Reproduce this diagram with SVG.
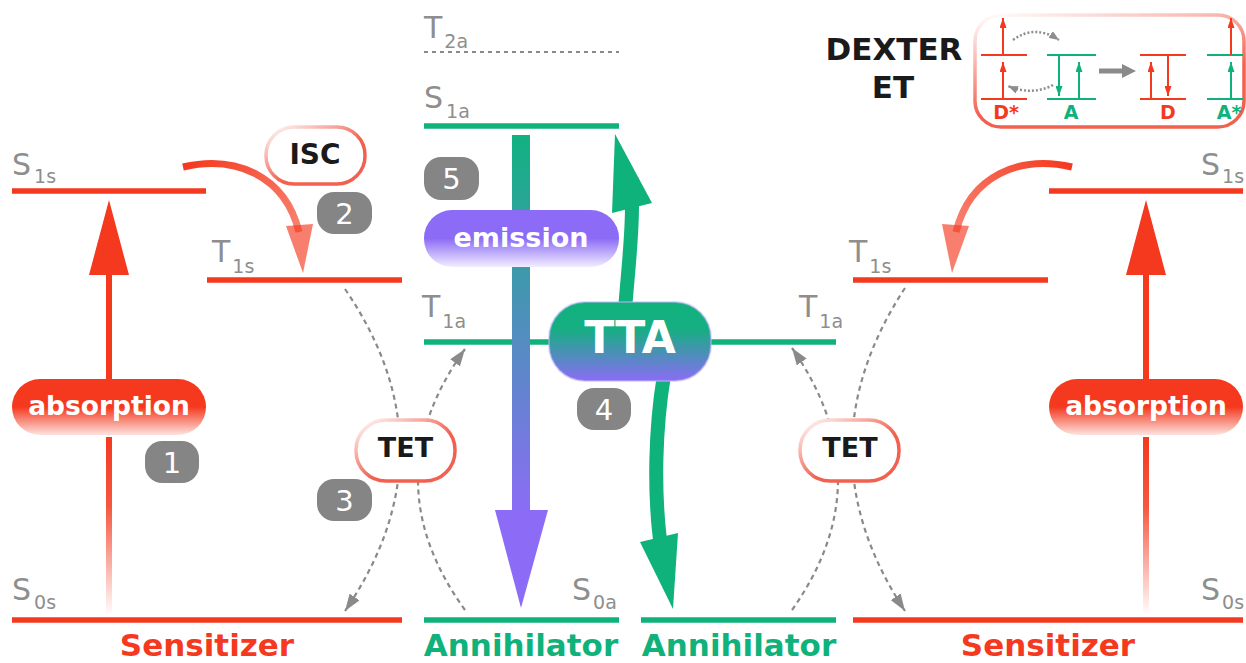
<svg xmlns="http://www.w3.org/2000/svg" width="1246" height="663" viewBox="0 0 1246 663">
<style>
.red{stroke:#f4391f;stroke-width:5.5;fill:none}
.grn{stroke:#10b27c;stroke-width:5.5;fill:none}
.lvl{font-family:"DejaVu Sans",Verdana,sans-serif;font-size:30px;fill:#8e8e8e}
.sub{font-size:19px}
.pt{font-family:"DejaVu Sans",Verdana,sans-serif;font-weight:bold;fill:#fff;text-anchor:middle}
.bt{font-family:"DejaVu Sans",Verdana,sans-serif;font-weight:bold;fill:#1a1a1a;text-anchor:middle}
.badge{fill:#858585}
.bn{font-family:"DejaVu Sans",Verdana,sans-serif;font-size:29px;fill:#fff;text-anchor:middle}
.dash{stroke:#8a8a8a;stroke-width:2.2;stroke-dasharray:5 4;fill:none}
.dot{stroke:#8e8e8e;stroke-width:2.5;stroke-dasharray:2 2;fill:none}
.wpill{fill:#fff;stroke:url(#gPS);stroke-width:3.5}
.foot{font-family:"DejaVu Sans",Verdana,sans-serif;font-weight:bold;font-size:31px;text-anchor:middle}
.dl{font-family:"DejaVu Sans",Verdana,sans-serif;font-weight:bold;font-size:19px;text-anchor:middle}
.dr{stroke:#f4391f;stroke-width:2;fill:none}
.dg{stroke:#10b27c;stroke-width:2;fill:none}
</style>
<defs>
<linearGradient id="gAbs" x1="0" y1="0" x2="0" y2="1"><stop offset="0" stop-color="#f4391f"/><stop offset="0.5" stop-color="#f4391f"/><stop offset="1" stop-color="#fde3df"/></linearGradient>
<linearGradient id="gEm" x1="0" y1="0" x2="0" y2="1"><stop offset="0" stop-color="#8c6cf6"/><stop offset="0.5" stop-color="#8c6cf6"/><stop offset="1" stop-color="#f1edff"/></linearGradient>
<linearGradient id="gTTA" x1="0" y1="0" x2="0" y2="1"><stop offset="0" stop-color="#10b27c"/><stop offset="0.35" stop-color="#16ae83"/><stop offset="1" stop-color="#8a6cf5"/></linearGradient>
<linearGradient id="gShaft" gradientUnits="userSpaceOnUse" x1="0" y1="437" x2="0" y2="612"><stop offset="0" stop-color="#f4391f"/><stop offset="0.4" stop-color="#f4391f" stop-opacity="0.85"/><stop offset="1" stop-color="#f4391f" stop-opacity="0.03"/></linearGradient>
<linearGradient id="gEmS" gradientUnits="userSpaceOnUse" x1="0" y1="135" x2="0" y2="515"><stop offset="0" stop-color="#12b281"/><stop offset="1" stop-color="#8c6cf6"/></linearGradient>
<linearGradient id="gISC" gradientUnits="userSpaceOnUse" x1="183" y1="167" x2="300" y2="250"><stop offset="0" stop-color="#f4391f"/><stop offset="1" stop-color="#f4391f" stop-opacity="0.6"/></linearGradient>
<linearGradient id="gPS" x1="0" y1="0" x2="0.55" y2="0.6"><stop offset="0" stop-color="#fff"/><stop offset="1" stop-color="#f2604f"/></linearGradient>
<linearGradient id="gDX" x1="0" y1="0" x2="0.35" y2="0.75"><stop offset="0" stop-color="#fff"/><stop offset="1" stop-color="#f2604f"/></linearGradient>
<marker id="mG" viewBox="0 0 10 10" preserveAspectRatio="none" refX="10" refY="5" markerWidth="17" markerHeight="12" markerUnits="userSpaceOnUse" orient="auto"><path d="M0,0L10,5L0,10z" fill="#8a8a8a"/></marker>
<marker id="mS" viewBox="0 0 10 10" preserveAspectRatio="none" refX="10" refY="5" markerWidth="10" markerHeight="8" markerUnits="userSpaceOnUse" orient="auto"><path d="M0,0L10,5L0,10z" fill="#8e8e8e"/></marker>
<marker id="mR" viewBox="0 0 10 10" preserveAspectRatio="none" refX="10" refY="5" markerWidth="10" markerHeight="7" markerUnits="userSpaceOnUse" orient="auto"><path d="M0,0L10,5L0,10z" fill="#f4391f"/></marker>
<marker id="mGr" viewBox="0 0 10 10" preserveAspectRatio="none" refX="10" refY="5" markerWidth="10" markerHeight="7" markerUnits="userSpaceOnUse" orient="auto"><path d="M0,0L10,5L0,10z" fill="#10b27c"/></marker>
</defs>
<rect width="1246" height="663" fill="#fff"/>

<g id="levels">
<line class="red" x1="12" y1="191" x2="206" y2="191"/>
<line class="red" x1="207" y1="280" x2="402" y2="280"/>
<line class="red" x1="12" y1="620" x2="402" y2="620"/>
<line class="red" x1="1049" y1="191" x2="1243" y2="191"/>
<line class="red" x1="853" y1="280" x2="1048" y2="280"/>
<line class="red" x1="853" y1="620" x2="1243" y2="620"/>
<line x1="424" y1="52" x2="619" y2="52" stroke="#8a8a8a" stroke-width="2.2" stroke-dasharray="4 4"/>
<line class="grn" x1="424" y1="126" x2="619" y2="126"/>
<line class="grn" x1="424" y1="342" x2="836" y2="342"/>
<line class="grn" x1="424" y1="620" x2="619" y2="620"/>
<line class="grn" x1="641" y1="620" x2="836" y2="620"/>
</g>

<g id="level-labels">
<text class="lvl" x="12" y="175">S<tspan class="sub" dx="3" dy="8">1s</tspan></text>
<text class="lvl" x="212" y="262">T<tspan class="sub" dx="2" dy="11">1s</tspan></text>
<text class="lvl" x="12" y="600">S<tspan class="sub" dx="3" dy="9">0s</tspan></text>
<text class="lvl" x="424" y="38">T<tspan class="sub" dx="2" dy="10">2a</tspan></text>
<text class="lvl" x="424" y="108">S<tspan class="sub" dx="3" dy="10">1a</tspan></text>
<text class="lvl" x="422" y="317">T<tspan class="sub" dx="2" dy="11">1a</tspan></text>
<text class="lvl" x="799" y="317">T<tspan class="sub" dx="2" dy="11">1a</tspan></text>
<text class="lvl" x="572" y="600">S<tspan class="sub" dx="2" dy="9">0a</tspan></text>
<text class="lvl" x="849" y="262">T<tspan class="sub" dx="2" dy="11">1s</tspan></text>
<text class="lvl" x="1201" y="175">S<tspan class="sub" dx="2" dy="8">1s</tspan></text>
<text class="lvl" x="1201" y="600">S<tspan class="sub" dx="2" dy="9">0s</tspan></text>
</g>

<g id="connectors">
<rect x="106" y="268" width="6" height="112" fill="#f4391f"/>
<rect x="106" y="437" width="6" height="176" fill="url(#gShaft)"/>
<polygon points="89,275 129,275 109,200" fill="#f4391f"/>
<rect x="1143" y="268" width="6" height="112" fill="#f4391f"/>
<rect x="1143" y="437" width="6" height="176" fill="url(#gShaft)"/>
<polygon points="1126,275 1166,275 1146,200" fill="#f4391f"/>
<g id="isc-left">
<path d="M183,167 C235,155 285,175 299,232" stroke="url(#gISC)" stroke-width="7" fill="none"/>
<polygon points="286,226 313,224 303,273" fill="#f4391f" fill-opacity="0.65"/>
</g>
<g transform="translate(1255,0) scale(-1,1)">
<path d="M183,167 C235,155 285,175 299,232" stroke="url(#gISC)" stroke-width="7" fill="none"/>
<polygon points="286,226 313,224 303,273" fill="#f4391f" fill-opacity="0.65"/>
</g>
<path class="dash" d="M345,289 Q455,450 345,611" marker-end="url(#mG)"/>
<path class="dash" d="M465,610 Q371,480 465,349" marker-end="url(#mG)"/>
<path class="dash" d="M905,288 Q799,450 905,611" marker-end="url(#mG)"/>
<path class="dash" d="M792,610 Q884,480 792,348" marker-end="url(#mG)"/>
<rect x="512" y="135" width="18" height="378" fill="url(#gEmS)"/>
<polygon points="495,510 548,510 521,608" fill="#8c6cf6"/>
<path d="M625,310 C628,270 632,240 632,206" stroke="#10b27c" stroke-width="14" fill="none"/>
<polygon points="612,213 652,203 615,134" fill="#10b27c"/>
<path d="M664,375 C655,430 654,490 660,540" stroke="#10b27c" stroke-width="14" fill="none"/>
<polygon points="640,542 678,533 673,609" fill="#10b27c"/>
</g>

<g id="absorption-left">
<rect x="12" y="379" width="194" height="56" rx="28" fill="url(#gAbs)"/>
<text class="pt" x="109" y="415" font-size="26.5">absorption</text>
</g>
<g id="absorption-right">
<rect x="1049" y="379" width="194" height="56" rx="28" fill="url(#gAbs)"/>
<text class="pt" x="1146" y="415" font-size="26.5">absorption</text>
</g>
<g id="isc">
<rect class="wpill" x="266" y="127" width="99" height="57" rx="28"/>
<text class="bt" x="315" y="164" font-size="28">ISC</text>
</g>
<g id="tet-left">
<rect class="wpill" x="356" y="420" width="99" height="61" rx="30"/>
<text class="bt" x="405.5" y="457" font-size="27">TET</text>
</g>
<g id="tet-right">
<rect class="wpill" x="800" y="420" width="99" height="61" rx="30"/>
<text class="bt" x="850" y="457" font-size="27">TET</text>
</g>
<g id="emission">
<rect x="424" y="210" width="195" height="57" rx="28" fill="url(#gEm)"/>
<text class="pt" x="521" y="247" font-size="27">emission</text>
</g>
<g id="tta">
<rect x="549" y="302" width="162" height="79" rx="36" fill="url(#gTTA)" stroke="#c4b3ff" stroke-opacity="0.5" stroke-width="2"/>
<text class="pt" x="630" y="353" font-size="44">TTA</text>
</g>

<g id="badges">
<rect class="badge" x="145" y="441" width="54" height="42" rx="17"/><text class="bn" x="172" y="473">1</text>
<rect class="badge" x="317" y="192" width="55" height="42" rx="17"/><text class="bn" x="344.5" y="224">2</text>
<rect class="badge" x="317" y="479" width="55" height="42" rx="17"/><text class="bn" x="344.5" y="511">3</text>
<rect class="badge" x="577" y="388" width="54" height="42" rx="17"/><text class="bn" x="604" y="420">4</text>
<rect class="badge" x="424" y="157" width="55" height="43" rx="17"/><text class="bn" x="451.5" y="189">5</text>
</g>

<g id="dexter">
<text class="bt" x="894" y="60" font-size="31">DEXTER</text>
<text class="bt" x="893" y="98" font-size="31">ET</text>
<rect x="975" y="15" width="269" height="112" rx="26" fill="none" stroke="url(#gDX)" stroke-width="3.5"/>
<line class="dr" x1="981" y1="55" x2="1027" y2="55"/>
<line class="dr" x1="981" y1="99" x2="1027" y2="99"/>
<line class="dr" x1="1003" y1="99" x2="1003" y2="62" marker-end="url(#mR)"/>
<line class="dr" x1="1003" y1="55" x2="1003" y2="18" marker-end="url(#mR)"/>
<line class="dg" x1="1047" y1="55" x2="1096" y2="55"/>
<line class="dg" x1="1047" y1="99" x2="1096" y2="99"/>
<line class="dg" x1="1059" y1="55" x2="1059" y2="96" marker-end="url(#mGr)"/>
<line class="dg" x1="1079" y1="99" x2="1079" y2="62" marker-end="url(#mGr)"/>
<line x1="1099" y1="71" x2="1124" y2="71" stroke="#8a8a8a" stroke-width="5"/>
<polygon points="1122,64 1136,71 1122,78" fill="#8a8a8a"/>
<line class="dr" x1="1140" y1="55" x2="1186" y2="55"/>
<line class="dr" x1="1140" y1="99" x2="1186" y2="99"/>
<line class="dr" x1="1151" y1="99" x2="1151" y2="62" marker-end="url(#mR)"/>
<line class="dr" x1="1168" y1="55" x2="1168" y2="96" marker-end="url(#mR)"/>
<line class="dg" x1="1207" y1="55" x2="1243" y2="55"/>
<line class="dg" x1="1207" y1="99" x2="1243" y2="99"/>
<line class="dg" x1="1231" y1="99" x2="1231" y2="62" marker-end="url(#mGr)"/>
<line class="dr" x1="1231" y1="55" x2="1231" y2="18" marker-end="url(#mR)"/>
<path class="dot" d="M1013,40 Q1035,24 1059,40" marker-end="url(#mS)"/>
<path class="dot" d="M1053,85 Q1032,96 1008,86" marker-end="url(#mS)"/>
<text class="dl" x="1006" y="119" fill="#f4391f">D*</text>
<text class="dl" x="1071" y="119" fill="#10b27c">A</text>
<text class="dl" x="1168" y="119" fill="#f4391f">D</text>
<text class="dl" x="1229" y="119" fill="#10b27c">A*</text>
</g>

<g id="footer">
<text class="foot" x="207" y="656" fill="#f4391f">Sensitizer</text>
<text class="foot" x="521" y="656" fill="#10b27c">Annihilator</text>
<text class="foot" x="739" y="656" fill="#10b27c">Annihilator</text>
<text class="foot" x="1048" y="656" fill="#f4391f">Sensitizer</text>
</g>
</svg>
